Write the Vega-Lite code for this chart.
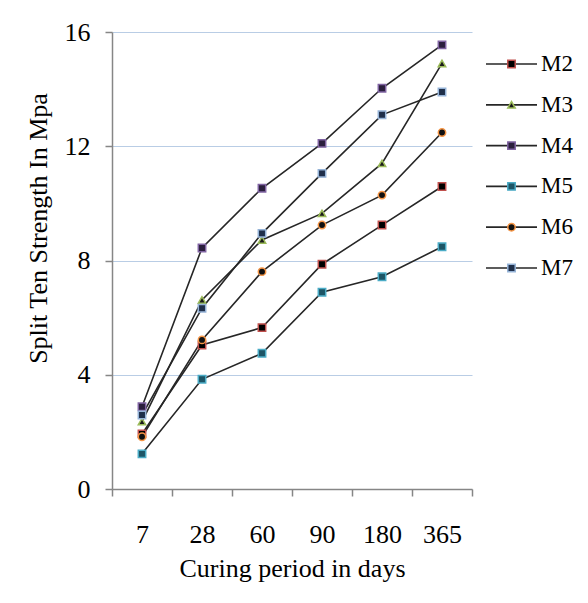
{
  "$schema": "https://vega.github.io/schema/vega-lite/v6.json",
  "autosize": {"type": "pad"},
  "padding": {"left": 25, "top": 19, "right": 5, "bottom": 5},
  "background": "white",
  "bounds": "flush",
  "spacing": 14,
  "config": {
    "view": {"stroke": null},
    "font": "Liberation Serif",
    "axis": {
      "labelFont": "Liberation Serif",
      "titleFont": "Liberation Serif",
      "labelFontSize": 26,
      "titleFontSize": 26,
      "titleFontWeight": "normal",
      "labelColor": "#000000",
      "titleColor": "#000000",
      "domainColor": "#868686",
      "domainWidth": 1.5,
      "tickColor": "#868686",
      "tickWidth": 1.5,
      "tickSize": 7
    }
  },
  "datasets": {
    "strength": [
      {"day": "7", "series": "M2", "value": 1.93},
      {"day": "28", "series": "M2", "value": 5.04},
      {"day": "60", "series": "M2", "value": 5.65},
      {"day": "90", "series": "M2", "value": 7.87},
      {"day": "180", "series": "M2", "value": 9.24},
      {"day": "365", "series": "M2", "value": 10.59},
      {"day": "7", "series": "M3", "value": 2.36},
      {"day": "28", "series": "M3", "value": 6.62},
      {"day": "60", "series": "M3", "value": 8.72},
      {"day": "90", "series": "M3", "value": 9.65},
      {"day": "180", "series": "M3", "value": 11.4},
      {"day": "365", "series": "M3", "value": 14.9},
      {"day": "7", "series": "M4", "value": 2.88},
      {"day": "28", "series": "M4", "value": 8.44},
      {"day": "60", "series": "M4", "value": 10.53},
      {"day": "90", "series": "M4", "value": 12.1},
      {"day": "180", "series": "M4", "value": 14.03},
      {"day": "365", "series": "M4", "value": 15.55},
      {"day": "7", "series": "M5", "value": 1.23},
      {"day": "28", "series": "M5", "value": 3.84},
      {"day": "60", "series": "M5", "value": 4.75},
      {"day": "90", "series": "M5", "value": 6.89},
      {"day": "180", "series": "M5", "value": 7.43},
      {"day": "365", "series": "M5", "value": 8.48},
      {"day": "7", "series": "M6", "value": 1.83},
      {"day": "28", "series": "M6", "value": 5.22},
      {"day": "60", "series": "M6", "value": 7.61},
      {"day": "90", "series": "M6", "value": 9.24},
      {"day": "180", "series": "M6", "value": 10.29},
      {"day": "365", "series": "M6", "value": 12.48},
      {"day": "7", "series": "M7", "value": 2.59},
      {"day": "28", "series": "M7", "value": 6.33},
      {"day": "60", "series": "M7", "value": 8.95},
      {"day": "90", "series": "M7", "value": 11.05},
      {"day": "180", "series": "M7", "value": 13.1},
      {"day": "365", "series": "M7", "value": 13.9}
    ],
    "legendRows": [
      {"series": "M2"}, {"series": "M3"}, {"series": "M4"},
      {"series": "M5"}, {"series": "M6"}, {"series": "M7"}
    ]
  },
  "hconcat": [
    {
      "width": 360,
      "height": 457,
      "data": {"name": "strength"},
      "encoding": {
        "x": {
          "field": "day", "type": "ordinal",
          "sort": ["7", "28", "60", "90", "180", "365"],
          "scale": {"type": "band", "paddingInner": 0, "paddingOuter": 0},
          "axis": {"title": "Curing period in days", "labelAngle": 0, "tickBand": "extent", "labelPadding": 25, "titlePadding": 8, "grid": false}
        },
        "y": {
          "field": "value", "type": "quantitative",
          "scale": {"domain": [0, 16], "nice": false},
          "axis": {"title": "Split Ten Strength In Mpa", "values": [0, 4, 8, 12, 16], "grid": true, "gridColor": "#b9cde5", "gridWidth": 1.2, "labelPadding": 15, "titlePadding": 13, "titleY": 196}
        }
      },
      "layer": [
        {
          "mark": {"type": "line", "color": "#262626", "strokeWidth": 1.6},
          "encoding": {"detail": {"field": "series"}}
        },
        {
          "mark": {"type": "point", "filled": true, "strokeWidth": 1.5, "opacity": 1, "size": 55},
          "encoding": {
            "shape": {"field": "series", "scale": {"domain": ["M2","M3","M4","M5","M6","M7"], "range": ["square","triangle-up","square","square","circle","square"]}, "legend": null},
            "fill": {"field": "series", "scale": {"domain": ["M2","M3","M4","M5","M6","M7"], "range": ["#000000","#1a1a1a","#2b1f3d","#1d5566","#111111","#1f2f4a"]}, "legend": null},
            "stroke": {"field": "series", "scale": {"domain": ["M2","M3","M4","M5","M6","M7"], "range": ["#c0504d","#9bbb59","#8064a2","#4bacc6","#f79646","#95b3d7"]}, "legend": null}
          }
        }
      ]
    },
    {
      "width": 51,
      "height": 268,
      "data": {"name": "legendRows"},
      "encoding": {
        "y": {"field": "series", "type": "nominal", "scale": {"type": "point", "padding": 0.786}, "axis": null}
      },
      "layer": [
        {
          "mark": {"type": "rule", "color": "#262626", "strokeWidth": 1.6},
          "encoding": {
            "x": {"datum": 0, "type": "quantitative", "scale": {"domain": [0, 1], "nice": false}, "axis": null},
            "x2": {"datum": 1}
          }
        },
        {
          "mark": {"type": "point", "filled": true, "strokeWidth": 1.5, "opacity": 1, "size": 55},
          "encoding": {
            "x": {"datum": 0.5, "type": "quantitative"},
            "shape": {"field": "series", "scale": {"domain": ["M2","M3","M4","M5","M6","M7"], "range": ["square","triangle-up","square","square","circle","square"]}, "legend": null},
            "fill": {"field": "series", "scale": {"domain": ["M2","M3","M4","M5","M6","M7"], "range": ["#000000","#1a1a1a","#2b1f3d","#1d5566","#111111","#1f2f4a"]}, "legend": null},
            "stroke": {"field": "series", "scale": {"domain": ["M2","M3","M4","M5","M6","M7"], "range": ["#c0504d","#9bbb59","#8064a2","#4bacc6","#f79646","#95b3d7"]}, "legend": null}
          }
        },
        {
          "mark": {"type": "text", "align": "left", "baseline": "middle", "dx": 4, "fontSize": 23, "font": "Liberation Serif", "color": "#000000"},
          "encoding": {
            "x": {"datum": 1, "type": "quantitative"},
            "text": {"field": "series"}
          }
        }
      ]
    }
  ]
}
